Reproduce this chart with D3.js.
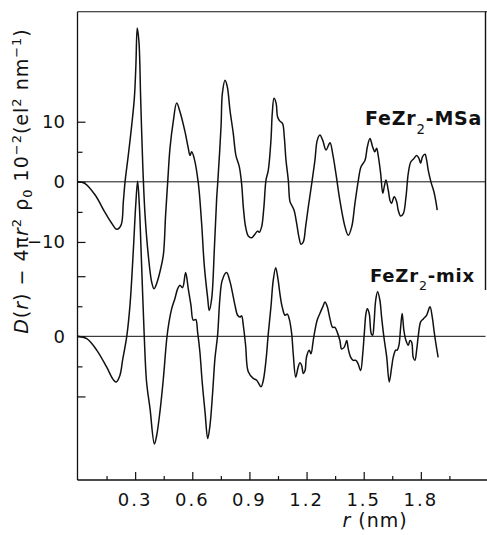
<!DOCTYPE html>
<html>
<head>
<meta charset="utf-8">
<script src="https://cdn.jsdelivr.net/npm/d3@7"></script>
<style>
  html, body { margin: 0; padding: 0; background: #fff; }
  svg { display: block; }
  text { fill: #111; }
</style>
</head>
<body>
<script>
// Reduced radial distribution functions of two FeZr2 samples
// r in nm, D(r) - 4πr²ρ0 in units of 10^2 el² nm^-1

const msaR = [0, 0.037, 0.09, 0.14, 0.177, 0.203, 0.226, 0.238, 0.247, 0.264, 0.282, 0.296, 0.304, 0.311, 0.32, 0.329, 0.34, 0.352, 0.369, 0.387, 0.399, 0.413, 0.43, 0.448, 0.46, 0.471, 0.483, 0.5, 0.518, 0.535, 0.562, 0.579, 0.588, 0.597, 0.61, 0.632, 0.649, 0.663, 0.681, 0.689, 0.702, 0.716, 0.728, 0.734, 0.751, 0.758, 0.772, 0.784, 0.798, 0.815, 0.829, 0.847, 0.859, 0.868, 0.88, 0.894, 0.912, 0.929, 0.943, 0.952, 0.964, 0.976, 0.987, 0.999, 1.013, 1.02, 1.029, 1.04, 1.048, 1.06, 1.074, 1.083, 1.092, 1.104, 1.113, 1.122, 1.134, 1.148, 1.16, 1.171, 1.183, 1.195, 1.209, 1.227, 1.244, 1.256, 1.27, 1.285, 1.302, 1.323, 1.337, 1.354, 1.375, 1.402, 1.419, 1.437, 1.454, 1.472, 1.486, 1.507, 1.519, 1.533, 1.547, 1.559, 1.568, 1.577, 1.589, 1.6, 1.608, 1.617, 1.629, 1.638, 1.646, 1.66, 1.673, 1.681, 1.694, 1.708, 1.722, 1.734, 1.747, 1.764, 1.778, 1.79, 1.799, 1.809, 1.822, 1.83, 1.839, 1.853, 1.869, 1.878, 1.886];
const msaD = [0, -0.3, -2.2, -5, -6.9, -7.9, -7.2, -3.3, 0, 4.4, 9.4, 14, 19.4, 25.6, 23.3, 13.9, 2.8, -5.5, -12.2, -16.7, -17.8, -16.9, -15, -12.2, -5.5, 0, 5.6, 10, 13.1, 11.7, 8.3, 5.6, 4.4, 5, 3.9, -0.3, -6.9, -13.9, -19.4, -21.4, -19.4, -11.1, -2.8, 0, 9.2, 14.7, 16.9, 15.8, 11.9, 8.1, 4.4, 2.5, -0.3, -4.2, -7.5, -9, -9.3, -8.7, -8.2, -8.4, -7.5, -4.2, 0.3, 1.9, 6.9, 11.4, 13.9, 13.1, 10.8, 10.1, 9.7, 7.5, 3.6, 0.3, -3.3, -3.9, -4.7, -6.9, -9.2, -10.4, -10, -7.5, -4.2, -0.3, 3.6, 6.9, 7.8, 6.9, 5.3, 6.5, 4.7, 1.4, -3.1, -7.5, -8.9, -7.5, -3.6, 0.3, 2.5, 3.6, 5.8, 7.2, 5.8, 5, 5.6, 4.2, 1.4, -1.9, -0.8, 0.3, -1.4, -3.1, -3.6, -2.5, -3.3, -4.7, -5.7, -5.3, -2.5, 1.4, 3.3, 3.9, 4.4, 3.9, 3.1, 4.2, 4.6, 3.7, 1.9, 0, -1.7, -3.1, -4.7];

const mixR = [0, 0.046, 0.098, 0.15, 0.185, 0.2, 0.22, 0.235, 0.256, 0.273, 0.291, 0.303, 0.313, 0.322, 0.334, 0.348, 0.36, 0.378, 0.401, 0.413, 0.43, 0.448, 0.466, 0.478, 0.492, 0.509, 0.523, 0.535, 0.549, 0.565, 0.579, 0.593, 0.605, 0.618, 0.628, 0.64, 0.652, 0.667, 0.681, 0.693, 0.707, 0.719, 0.733, 0.745, 0.757, 0.78, 0.798, 0.81, 0.824, 0.838, 0.85, 0.859, 0.868, 0.88, 0.894, 0.92, 0.938, 0.961, 0.973, 0.987, 0.999, 1.013, 1.025, 1.038, 1.051, 1.06, 1.072, 1.087, 1.099, 1.109, 1.122, 1.13, 1.143, 1.156, 1.165, 1.174, 1.183, 1.192, 1.2, 1.214, 1.223, 1.235, 1.244, 1.256, 1.27, 1.285, 1.297, 1.309, 1.323, 1.337, 1.349, 1.361, 1.375, 1.384, 1.398, 1.411, 1.419, 1.432, 1.445, 1.459, 1.471, 1.484, 1.495, 1.503, 1.512, 1.519, 1.529, 1.54, 1.547, 1.554, 1.563, 1.573, 1.585, 1.594, 1.606, 1.621, 1.634, 1.647, 1.655, 1.668, 1.676, 1.685, 1.694, 1.702, 1.711, 1.722, 1.734, 1.743, 1.752, 1.76, 1.769, 1.778, 1.786, 1.799, 1.813, 1.83, 1.848, 1.86, 1.869, 1.879, 1.891];
const mixD = [0, -0.4, -2.3, -5.1, -7.2, -7.6, -6.5, -3.8, 0, 5.2, 14.6, 21.8, 25.8, 21.8, 11.8, -0.1, -7.6, -12, -17.9, -16.5, -12.6, -7.1, -0.4, 2.4, 4.6, 6.3, 7.9, 8.5, 8.1, 10.6, 7.9, 5.2, 2.7, 2.8, 0.7, -2.6, -7.6, -12.6, -17, -14.8, -9.3, -3.7, 0.2, 6.3, 9.3, 10.6, 9.1, 7.4, 5.2, 3.5, 3.2, 3.4, 1.8, -1.5, -5.9, -7, -7.3, -8.4, -7.3, -4, 0.4, 4.9, 9.3, 11.4, 9.3, 7.1, 4.9, 3.5, 3.7, 2.9, 0.4, -2.9, -6.8, -5.1, -4.4, -4.8, -6.2, -5.7, -3.4, -2.3, -2.9, -0.7, 1, 2.7, 3.8, 4.9, 5.7, 4.9, 2.9, 1.5, 1.5, 0.7, -0.7, -2.1, -1.8, -0.7, -2.1, -3.5, -4, -4, -4.6, -5.7, -2.9, 0.4, 3.8, 4.6, 3.8, 0.4, 0.2, 2.1, 6, 7.4, 6, 3.2, -0.1, -3.5, -7.6, -5.1, -3.5, -2.3, -2.3, -1.5, 1.5, 3.8, 1, -0.7, -1.5, -0.7, -1, -3.5, -4, -2.3, -0.1, 2.4, 2.9, 3.5, 4.9, 3.2, 1, -1.2, -3.5];

// vertical shift of the lower curve, in the same units
const mixOffset = -25.7;

const xMajorTicks = [0.3, 0.6, 0.9, 1.2, 1.5, 1.8];
const xMinorTicks = [0.15, 0.45, 0.75, 1.05, 1.35, 1.65, 1.95];
const yMajorTicks = [10, 0, -10];
const yMinorTicks = [5, -5];
const msaTickLabels = ["10", "0", "\u221210"];
const mixTickLabels = ["", "0", ""];
const seriesNames = ["FeZr", "FeZr"];
const seriesSuffix = ["-MSa", "-mix"];

const W = 487, H = 535;
const svg = d3.select("body").append("svg").attr("width", W).attr("height", H)
  .style("font-family", "'DejaVu Sans', 'Liberation Sans', sans-serif");

const x = d3.scaleLinear().domain([0, 2.15]).range([78, 487.5]);
const y = d3.scaleLinear().domain([-49.6, 28.3]).range([480, 11.7]);

const plotLeft = 77.5, plotTop = 11.7, plotBottom = 480, plotRight = 485.5;
const ink = "#111";

// frame: left, top, bottom and part of the right edge
const frame = svg.append("g").attr("stroke", ink).attr("fill", "none");
frame.append("line").attr("x1", plotLeft).attr("x2", plotLeft).attr("y1", plotTop).attr("y2", plotBottom).attr("stroke-width", 1.3);
frame.append("line").attr("x1", plotLeft).attr("x2", W).attr("y1", plotTop).attr("y2", plotTop).attr("stroke-width", 1.1);
frame.append("line").attr("x1", plotRight).attr("x2", plotRight).attr("y1", plotTop).attr("y2", 290).attr("stroke-width", 1.4);

// bottom axis with inward ticks
const xAxisMajor = d3.axisTop(x).tickValues(xMajorTicks).tickSize(8).tickFormat("");
const xAxisMinor = d3.axisTop(x).tickValues(xMinorTicks).tickSize(4).tickFormat("");
[xAxisMajor, xAxisMinor].forEach(ax => {
  const g = svg.append("g").attr("transform", `translate(0,${plotBottom})`).call(ax);
  g.select(".domain").remove();
  g.selectAll(".tick line").attr("stroke", ink).attr("stroke-width", 1.2);
});
svg.append("line").attr("x1", plotLeft).attr("x2", W).attr("y1", plotBottom).attr("y2", plotBottom)
  .attr("stroke", ink).attr("stroke-width", 1.3);

svg.append("g").selectAll("text").data(xMajorTicks).join("text")
  .attr("x", d => x(d)).attr("y", 506)
  .attr("text-anchor", "middle").attr("font-size", 18).attr("letter-spacing", 2)
  .text(d => d.toFixed(1));

// x-axis title
const xt = svg.append("text").attr("x", 375).attr("y", 527).attr("text-anchor", "middle")
  .attr("font-size", 19).attr("letter-spacing", 1);
xt.append("tspan").attr("font-style", "italic").text("r");
xt.append("tspan").text(" (nm)");

// left axis ticks for each curve's own baseline
function yTicks(offset, labels) {
  const major = d3.axisRight(y).tickValues(yMajorTicks.map(v => v + offset)).tickSize(8).tickFormat("");
  const minor = d3.axisRight(y).tickValues(yMinorTicks.map(v => v + offset)).tickSize(5).tickFormat("");
  [major, minor].forEach(ax => {
    const g = svg.append("g").attr("transform", `translate(${plotLeft},0)`).call(ax);
    g.select(".domain").remove();
    g.selectAll(".tick line").attr("stroke", ink).attr("stroke-width", 1.2);
  });
  svg.append("g").selectAll("text").data(yMajorTicks).join("text")
    .attr("x", 65).attr("y", (d) => y(d + offset)).attr("dy", "0.36em")
    .attr("text-anchor", "end").attr("font-size", 18)
    .text((d, i) => labels[i]);
}
yTicks(0, msaTickLabels);
yTicks(mixOffset, mixTickLabels);

// baselines
[0, mixOffset].forEach(off => {
  svg.append("line").attr("x1", plotLeft).attr("x2", plotRight).attr("y1", y(off)).attr("y2", y(off))
    .attr("stroke", ink).attr("stroke-width", 1);
});

// curves
const line = d3.line().curve(d3.curveCatmullRom.alpha(0.5));
function drawCurve(rs, ds, off) {
  svg.append("path")
    .attr("d", line(rs.map((r, i) => [x(r), y(ds[i] + off)])))
    .attr("fill", "none").attr("stroke", ink).attr("stroke-width", 1.5)
    .attr("stroke-linejoin", "round");
}
drawCurve(msaR, msaD, 0);
drawCurve(mixR, mixD, mixOffset);

// series labels
function seriesLabel(xp, yp, i, fs) {
  const t = svg.append("text").attr("x", xp).attr("y", yp).attr("font-weight", "bold")
    .attr("font-size", fs).attr("letter-spacing", 0.8);
  t.append("tspan").text(seriesNames[i]);
  t.append("tspan").attr("font-size", fs * 0.7).attr("font-weight", "normal").attr("dy", fs * 0.45).text("2");
  t.append("tspan").attr("dy", -fs * 0.45).text(seriesSuffix[i]);
}
seriesLabel(365, 125, 0, 19);
seriesLabel(370, 282, 1, 18);

// y-axis title
const yt = svg.append("text")
  .attr("transform", `translate(28,${181}) rotate(-90)`)
  .attr("text-anchor", "middle").attr("font-size", 19).attr("letter-spacing", 1);
yt.append("tspan").attr("font-style", "italic").text("D");
yt.append("tspan").text("(");
yt.append("tspan").attr("font-style", "italic").text("r");
yt.append("tspan").text(") \u2212 4\u03c0");
yt.append("tspan").attr("font-style", "italic").text("r");
yt.append("tspan").attr("font-size", 13).attr("dy", -7).text("2");
yt.append("tspan").attr("dy", 7).text(" \u03c1");
yt.append("tspan").attr("font-size", 13).attr("dy", 4).text("0");
yt.append("tspan").attr("dy", -4).text(" 10");
yt.append("tspan").attr("font-size", 13).attr("dy", -7).text("\u22122");
yt.append("tspan").attr("dy", 7).text("(el");
yt.append("tspan").attr("font-size", 13).attr("dy", -7).text("2");
yt.append("tspan").attr("dy", 7).text(" nm");
yt.append("tspan").attr("font-size", 13).attr("dy", -7).text("\u22121");
yt.append("tspan").attr("dy", 7).text(")");
</script>
</body>
</html>
